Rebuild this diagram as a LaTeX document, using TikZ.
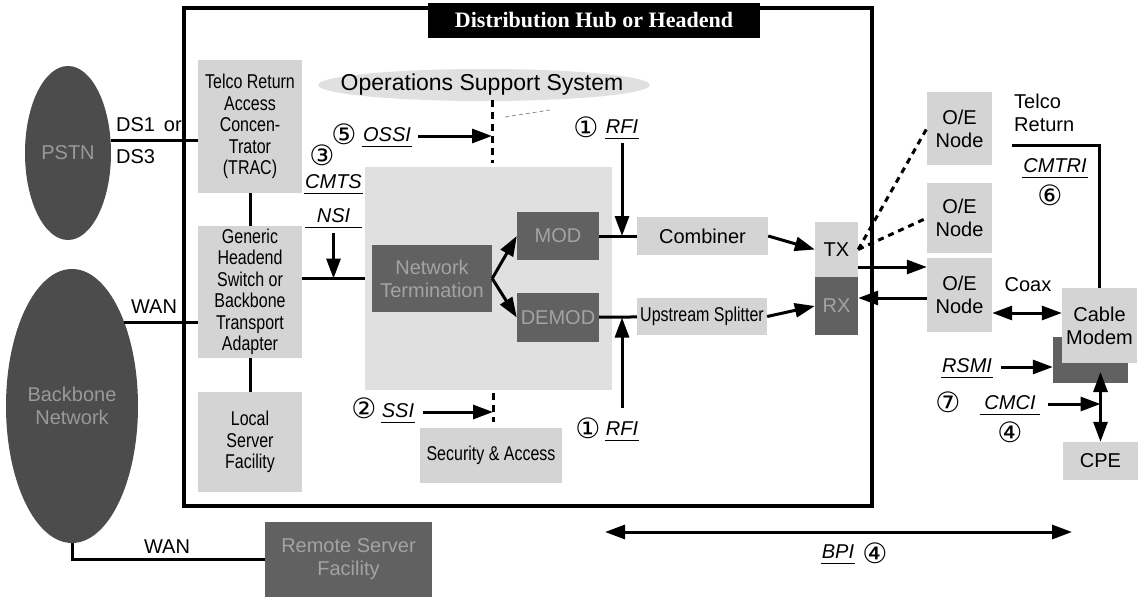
\documentclass[tikz,border=0pt]{standalone}
\usepackage{fontspec}
\setmainfont{Liberation Sans}
\newfontfamily\narrowfont[FakeStretch=0.8]{Liberation Sans}
\newfontfamily\circfont{DejaVu Sans}
\newfontfamily\headfont{Liberation Serif}
\usetikzlibrary{arrows.meta, shapes.geometric, positioning}

\newcommand{\lblsize}{\fontsize{20}{23}\selectfont}
\newcommand{\boxsize}{\narrowfont\fontsize{20}{21.5}\selectfont}
\newcommand{\circnum}[1]{{\circfont\fontsize{28}{28}\selectfont #1}}

\begin{document}
\begin{tikzpicture}[x=1pt, y=-1pt]

        % 0. Page size of the scanned figure (pixel units, y downwards)
        \useasboundingbox (0,0) rectangle (1143,597);

        \tikzset{
            lite/.style={fill=black!17, inner sep=0pt, align=center, font=\boxsize},
            dark/.style={fill=black!62, text=black!36, inner sep=0pt, align=center, font=\lblsize},
            cloud/.style={ellipse, fill=black!70, text=black!40, inner sep=0pt, align=center, font=\lblsize},
            lab/.style={inner sep=1pt, font=\lblsize},
            ilab/.style={lab, font=\lblsize\itshape, text height=14.5pt, text depth=4pt,
                append after command={(\tikzlastnode.south west) edge[line width=1.1pt] (\tikzlastnode.south east)}},
            num/.style={inner sep=0pt},
            wire/.style={line width=3pt},
            arr/.style={line width=3pt, -{Triangle[length=20pt, width=14pt]}},
            darr/.style={line width=3pt, {Triangle[length=20pt, width=14pt]}-{Triangle[length=20pt, width=14pt]}},
            dots/.style={line width=3pt, dash pattern=on 6pt off 5pt}
        }

        % 1. Networks outside the hub
        \node[cloud, minimum width=86, minimum height=174] (pstn) at (68,153) {PSTN};
        \node[cloud, minimum width=132, minimum height=274] (bbnet) at (72,406) {Backbone\\Network};
        \node[dark, minimum width=167, minimum height=75] (remote) at (348.5,559.5) {Remote Server\\Facility};

        % 2. Hub frame and its title
        \node[draw, line width=3.2pt, minimum width=688, minimum height=498, inner sep=0pt] (hub) at (528,257) {};
        \node[fill=black, text=white, font=\headfont\bfseries\fontsize{22}{24}\selectfont,
              minimum width=332, minimum height=35, inner sep=0pt] (hubtitle) at (594,20.5) {Distribution Hub or Headend};

        % 3. Boxes inside the hub
        \node[lite, minimum width=104, minimum height=133] (trac) at (250,126.5) {Telco Return\\Access\\Concen-\\Trator\\(TRAC)};
        \node[lite, minimum width=104, minimum height=132] (ghs) at (250,292) {Generic\\Headend\\Switch or\\Backbone\\Transport\\Adapter};
        \node[lite, minimum width=104, minimum height=100] (lsf) at (250,442) {Local\\Server\\Facility};

        \fill[black!12] (484,85) ellipse [x radius=166, y radius=16];
        \node[font=\fontsize{23}{25}\selectfont, inner sep=0pt] (oss) at (482,85) {Operations Support System};

        \node[fill=black!12, minimum width=247, minimum height=223, inner sep=0pt] (cmts) at (488.5,278.5) {};
        \node[dark, minimum width=120, minimum height=67] (netterm) at (432,278.5) {Network\\Termination};
        \node[dark, minimum width=82, minimum height=48] (mod) at (558,236) {MOD};
        \node[dark, minimum width=82, minimum height=49] (demod) at (558,317.5) {DEMOD};
        \node[lite, font=\lblsize, minimum width=131, minimum height=38] (comb) at (702.5,236) {Combiner};
        \node[lite, minimum width=130, minimum height=37] (split) at (702,316.5) {Upstream Splitter};
        \node[lite, font=\lblsize, minimum width=43, minimum height=55] (tx) at (836.5,249.5) {TX};
        \node[dark, minimum width=43, minimum height=58] (rx) at (836.5,306) {RX};
        \node[lite, minimum width=142, minimum height=55] (secacc) at (491,455.5) {Security \& Access};

        % 4. Plant and customer side
        \node[lite, font=\lblsize, minimum width=65, minimum height=73] (oea) at (959.5,128.5) {O/E\\Node};
        \node[lite, font=\lblsize, minimum width=65, minimum height=70] (oeb) at (959.5,218) {O/E\\Node};
        \node[lite, font=\lblsize, minimum width=65, minimum height=74] (oec) at (959.5,295) {O/E\\Node};
        \node[fill=black!62, minimum width=75, minimum height=46, inner sep=0pt] (cmshade) at (1090.5,360) {};
        \node[lite, font=\lblsize, minimum width=75, minimum height=75] (cm) at (1099.5,325.5) {Cable\\Modem};
        \node[lite, font=\lblsize, minimum width=75, minimum height=38] (cpe) at (1100.5,461) {CPE};

        % 5. Wires and arrows
        \draw[wire] (pstn.16) -- (pstn.16 -| trac.west);
        \draw[wire] (bbnet.58) -- (bbnet.58 -| ghs.west);
        \draw[wire] (bbnet.south) |- (remote.west);
        \draw[wire] (trac) -- (ghs);
        \draw[wire] (ghs) -- (lsf);
        \draw[wire] (ghs.east |- cmts.west) -- (cmts.west);
        \draw[arr] (netterm.east) -- (mod.west);
        \draw[arr] (netterm.east) -- (demod.west);
        \draw[wire] (mod) -- (comb);
        \draw[wire] (demod) -- (split);
        \draw[arr] (comb.east) -- (tx.west);
        \draw[arr] (split.east) -- (rx.west);
        \draw[dots] (tx.east) -- (oea.west);
        \draw[dots] (tx.east) -- (oeb.west);
        \draw[arr] ([yshift=-17.5pt]tx.east) -- ([yshift=-17.5pt]tx.east -| oec.west);
        \draw[arr] ([yshift=8pt]rx.east -| oec.west) -- ([yshift=8pt]rx.east);
        \draw[darr] ([yshift=-18pt]oec.east) -- ([yshift=-18pt]oec.east -| cm.west);

        % 6. Link labels
        \node[lab, anchor=west] (ds1) at (115,125) {DS1\, or};
        \node[lab, anchor=west] (ds3) at (115,157) {DS3};
        \node[lab] (wana) at (154,307) {WAN};
        \node[lab] (wanb) at (167,547) {WAN};

        % 7. Interfaces
        \node[num] (n3) at (322,155) {\circnum{③}};
        \node[ilab, minimum width=57] (cmtsl) at (333.5,183) {CMTS};
        \node[ilab, minimum width=57] (nsil) at (333.5,217) {NSI};
        \draw[arr] ([yshift=-6pt]nsil.south) -- (nsil.south |- cmts.west);

        \node[num] (n5) at (344,134) {\circnum{⑤}};
        \node[ilab] (ossil) at (387,136) {OSSI};
        \coordinate (ossbarT) at (492,100);
        \coordinate (ossbarB) at (492,163);
        \draw[dots, dash pattern=on 7pt off 5pt] (ossbarT) -- (ossbarB);
        \draw[arr] ([xshift=6pt]ossil.east) -- (ossil.east -| ossbarT);
        \coordinate (faintA) at (505,117);
        \coordinate (faintB) at (550,110);
        \draw[black!45, line width=0.8pt, dash pattern=on 4pt off 3pt] (faintA) -- (faintB);

        \node[num] (n1a) at (586,127) {\circnum{①}};
        \node[ilab] (rfia) at (622,128) {RFI};
        \draw[arr] ([yshift=-5pt]rfia.south) -- (rfia.south |- mod.east);
        \node[num] (n1b) at (588,428) {\circnum{①}};
        \node[ilab] (rfib) at (622,430) {RFI};
        \draw[arr] ([yshift=12pt]rfib.north) -- (rfib.north |- demod.east);

        \node[num] (n2) at (364,408) {\circnum{②}};
        \node[ilab] (ssil) at (398,412) {SSI};
        \coordinate (ssbarT) at (493,393);
        \coordinate (ssbarB) at (493,422);
        \draw[dots, dash pattern=on 7pt off 5pt] (ssbarT) -- (ssbarB);
        \draw[arr] ([xshift=8pt]ssil.east) -- (ssil.east -| ssbarT);

        \node[lab, align=left, anchor=west] (telco) at (1013,113) {Telco\\Return};
        \coordinate (telcoend) at (1012,145);
        \draw[wire] (telcoend) -| (cm.north);
        \node[ilab] (cmtril) at (1055,167) {CMTRI};
        \node[num] (n6) at (1050,195) {\circnum{⑥}};
        \node[lab] (coax) at (1028,285) {Coax};

        \node[ilab] (rsmil) at (967,367) {RSMI};
        \draw[arr] ([xshift=8pt]rsmil.east) -- (rsmil.east -| cmshade.west);
        \node[num] (n7) at (948,402) {\circnum{⑦}};
        \node[ilab, minimum width=60] (cmcil) at (1010,404) {CMCI};
        \node[num] (n4a) at (1010,432) {\circnum{④}};
        \coordinate (cmtap) at (1100.5,372);
        \draw[darr] (cpe.north) -- (cmtap);
        \draw[arr] ([xshift=8pt]cmcil.east) -- (cmcil.east -| cpe.north);

        \coordinate (bpiL) at (605,532);
        \coordinate (bpiR) at (1072,532);
        \draw[darr] (bpiL) -- (bpiR);
        \node[ilab] (bpil) at (838,553) {BPI};
        \node[num] (n4b) at (875,553) {\circnum{④}};

\end{tikzpicture}
\end{document}
